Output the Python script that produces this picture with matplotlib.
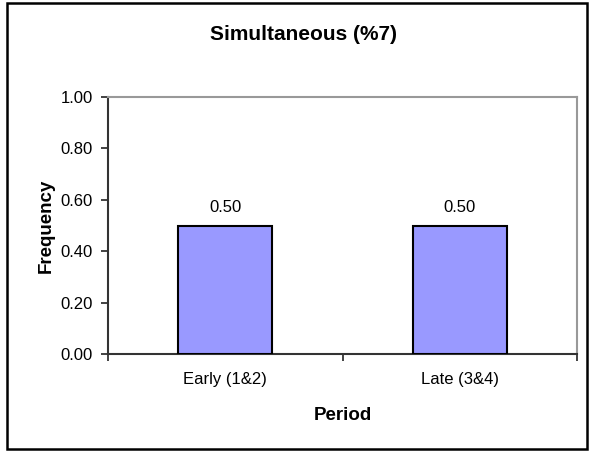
import matplotlib as mpl
mpl.use('Agg')
import matplotlib.pyplot as plt
from matplotlib.patches import Rectangle

# frequency of simultaneous moves per period
periods = ['Early (1&2)', 'Late (3&4)']
frequency = [0.50, 0.50]
yticks = [0.00, 0.20, 0.40, 0.60, 0.80, 1.00]

plt.rcParams['font.family'] = ['Liberation Sans', 'DejaVu Sans']

fig = plt.figure(figsize=(5.91, 4.51), dpi=100)
ax = fig.add_axes([108 / 591, 97 / 451, 469 / 591, 257 / 451])

x = range(len(periods))
bars = ax.bar(x, frequency, width=0.4, color='#9999FF', edgecolor='black', linewidth=1.5, zorder=3)
for rect, v in zip(bars, frequency):
	ax.text(rect.get_x() + rect.get_width() / 2, v + 0.04, '%.2f' % v,
			ha='center', va='bottom', fontsize=12)

ax.set_xlim(-0.5, len(periods) - 0.5)
ax.set_ylim(0, 1)
ax.set_yticks(yticks)
ax.set_yticklabels(['%.2f' % t for t in yticks], fontsize=12)

# category labels centred, tick marks between categories
ax.set_xticks([i - 0.5 for i in range(len(periods) + 1)])
ax.set_xticklabels([])
ax.set_xticks(list(x), minor=True)
ax.set_xticklabels(periods, minor=True, fontsize=12)
ax.tick_params(axis='x', which='minor', length=0, pad=13)
ax.tick_params(axis='x', which='major', length=5, width=1.2, color='#222222')
ax.tick_params(axis='y', length=5, width=1.2, color='#222222', pad=6)

for side in ['left', 'bottom']:
	ax.spines[side].set_color('#333333')
	ax.spines[side].set_linewidth(1.5)
for side in ['top', 'right']:
	ax.spines[side].set_color('#999999')
	ax.spines[side].set_linewidth(1.5)

ax.set_xlabel('Period', fontsize=13.5, fontweight='bold', labelpad=14)
ax.set_ylabel('Frequency', fontsize=13.5, fontweight='bold', labelpad=4)
fig.text(304 / 591, 1 - 34 / 451, 'Simultaneous (%7)', ha='center', va='center',
		 fontsize=15, fontweight='bold')

# outer chart border
fig.patches.append(Rectangle((7 / 591, 2 / 451), 580 / 591, 446 / 451, transform=fig.transFigure,
							 fill=False, edgecolor='black', linewidth=1.8))

plt.savefig('out.png', dpi=100)
